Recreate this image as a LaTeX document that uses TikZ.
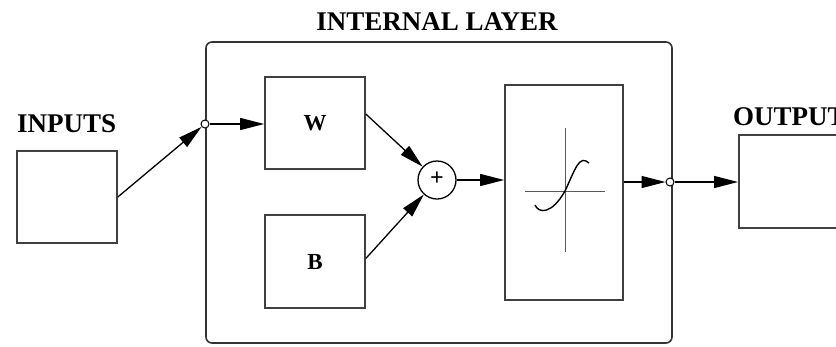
\documentclass[tikz,border=0pt]{standalone}
\usepackage{fontspec}
\setmainfont{Liberation Serif}
\usetikzlibrary{arrows.meta,calc}
\begin{document}
\begin{tikzpicture}[x=1pt,y=-1pt,
  box/.style={draw=black!75,line width=1.6pt,inner sep=0pt},
  lbl/.style={font=\fontsize{27}{30}\selectfont\bfseries,inner sep=0pt},
  small/.style={font=\fontsize{23}{26}\selectfont\bfseries},
  port/.style={circle,draw=black,line width=1pt,minimum size=8pt,inner sep=0pt,fill=white},
  arr/.style={line width=1.3pt,-{Triangle[length=24pt,width=12pt]}}]
\useasboundingbox (0,0) rectangle (836,346);
\clip (0,0) rectangle (836,346);
% boxes
\node[box,minimum width=100pt,minimum height=92pt] (in) at (67,197) {};
\node[lbl,anchor=west] (inl) at (17,124) {INPUTS};
\draw[line width=1.6pt,draw=black!80,rounded corners=6pt] (206,42) rectangle (672,343);
\node[lbl] (layl) at (437,22) {INTERNAL LAYER};
\node[box,minimum width=100pt,minimum height=92pt] (W) at (315,123) {};
\node[small] at (W) {W};
\node[box,minimum width=100pt,minimum height=93pt] (B) at (315,261.5) {};
\node[small] at (B) {B};
\node[circle,draw=black,line width=1.3pt,minimum size=38pt,inner sep=0pt,font=\fontsize{24}{26}\selectfont\bfseries] (sum) at (437,180) {};
\node[font=\fontsize{24}{26}\selectfont\bfseries] at (437,179) {+};
\node[box,minimum width=118pt,minimum height=215pt] (sig) at (564,192.5) {};
\node[box,minimum width=200pt,minimum height=93pt,anchor=west] (out) at (738,181.5) {};
\node[lbl,anchor=west] (outl) at (733,117) {OUTPUT};
% ports
\node[port] (pin) at (205,124) {};
\node[port] (pout) at (670,182) {};
% sigmoid
\draw[line width=1pt,black!65] (525,191) -- (605,191);
\draw[line width=1pt,black!65] (565,128) -- (565,252);
\draw[line width=1.4pt] (535,205) .. controls (539,214) and (552,214) .. (565,191) .. controls (575,170) and (579,154) .. (589,163);
% connectors
\draw[arr] (in.east) -- (pin);
\draw[arr] (pin.east) -- (W.west |- pin);
\draw[arr] ([yshift=9pt]W.east) -- (sum);
\draw[arr] ([yshift=3pt]B.east) -- (sum);
\draw[arr] (sum.east) -- (sig.west |- sum);
\draw[arr] (sig.east |- pout) -- (pout);
\draw[arr] (pout.east) -- (out.west |- pout);
\end{tikzpicture}
\end{document}
